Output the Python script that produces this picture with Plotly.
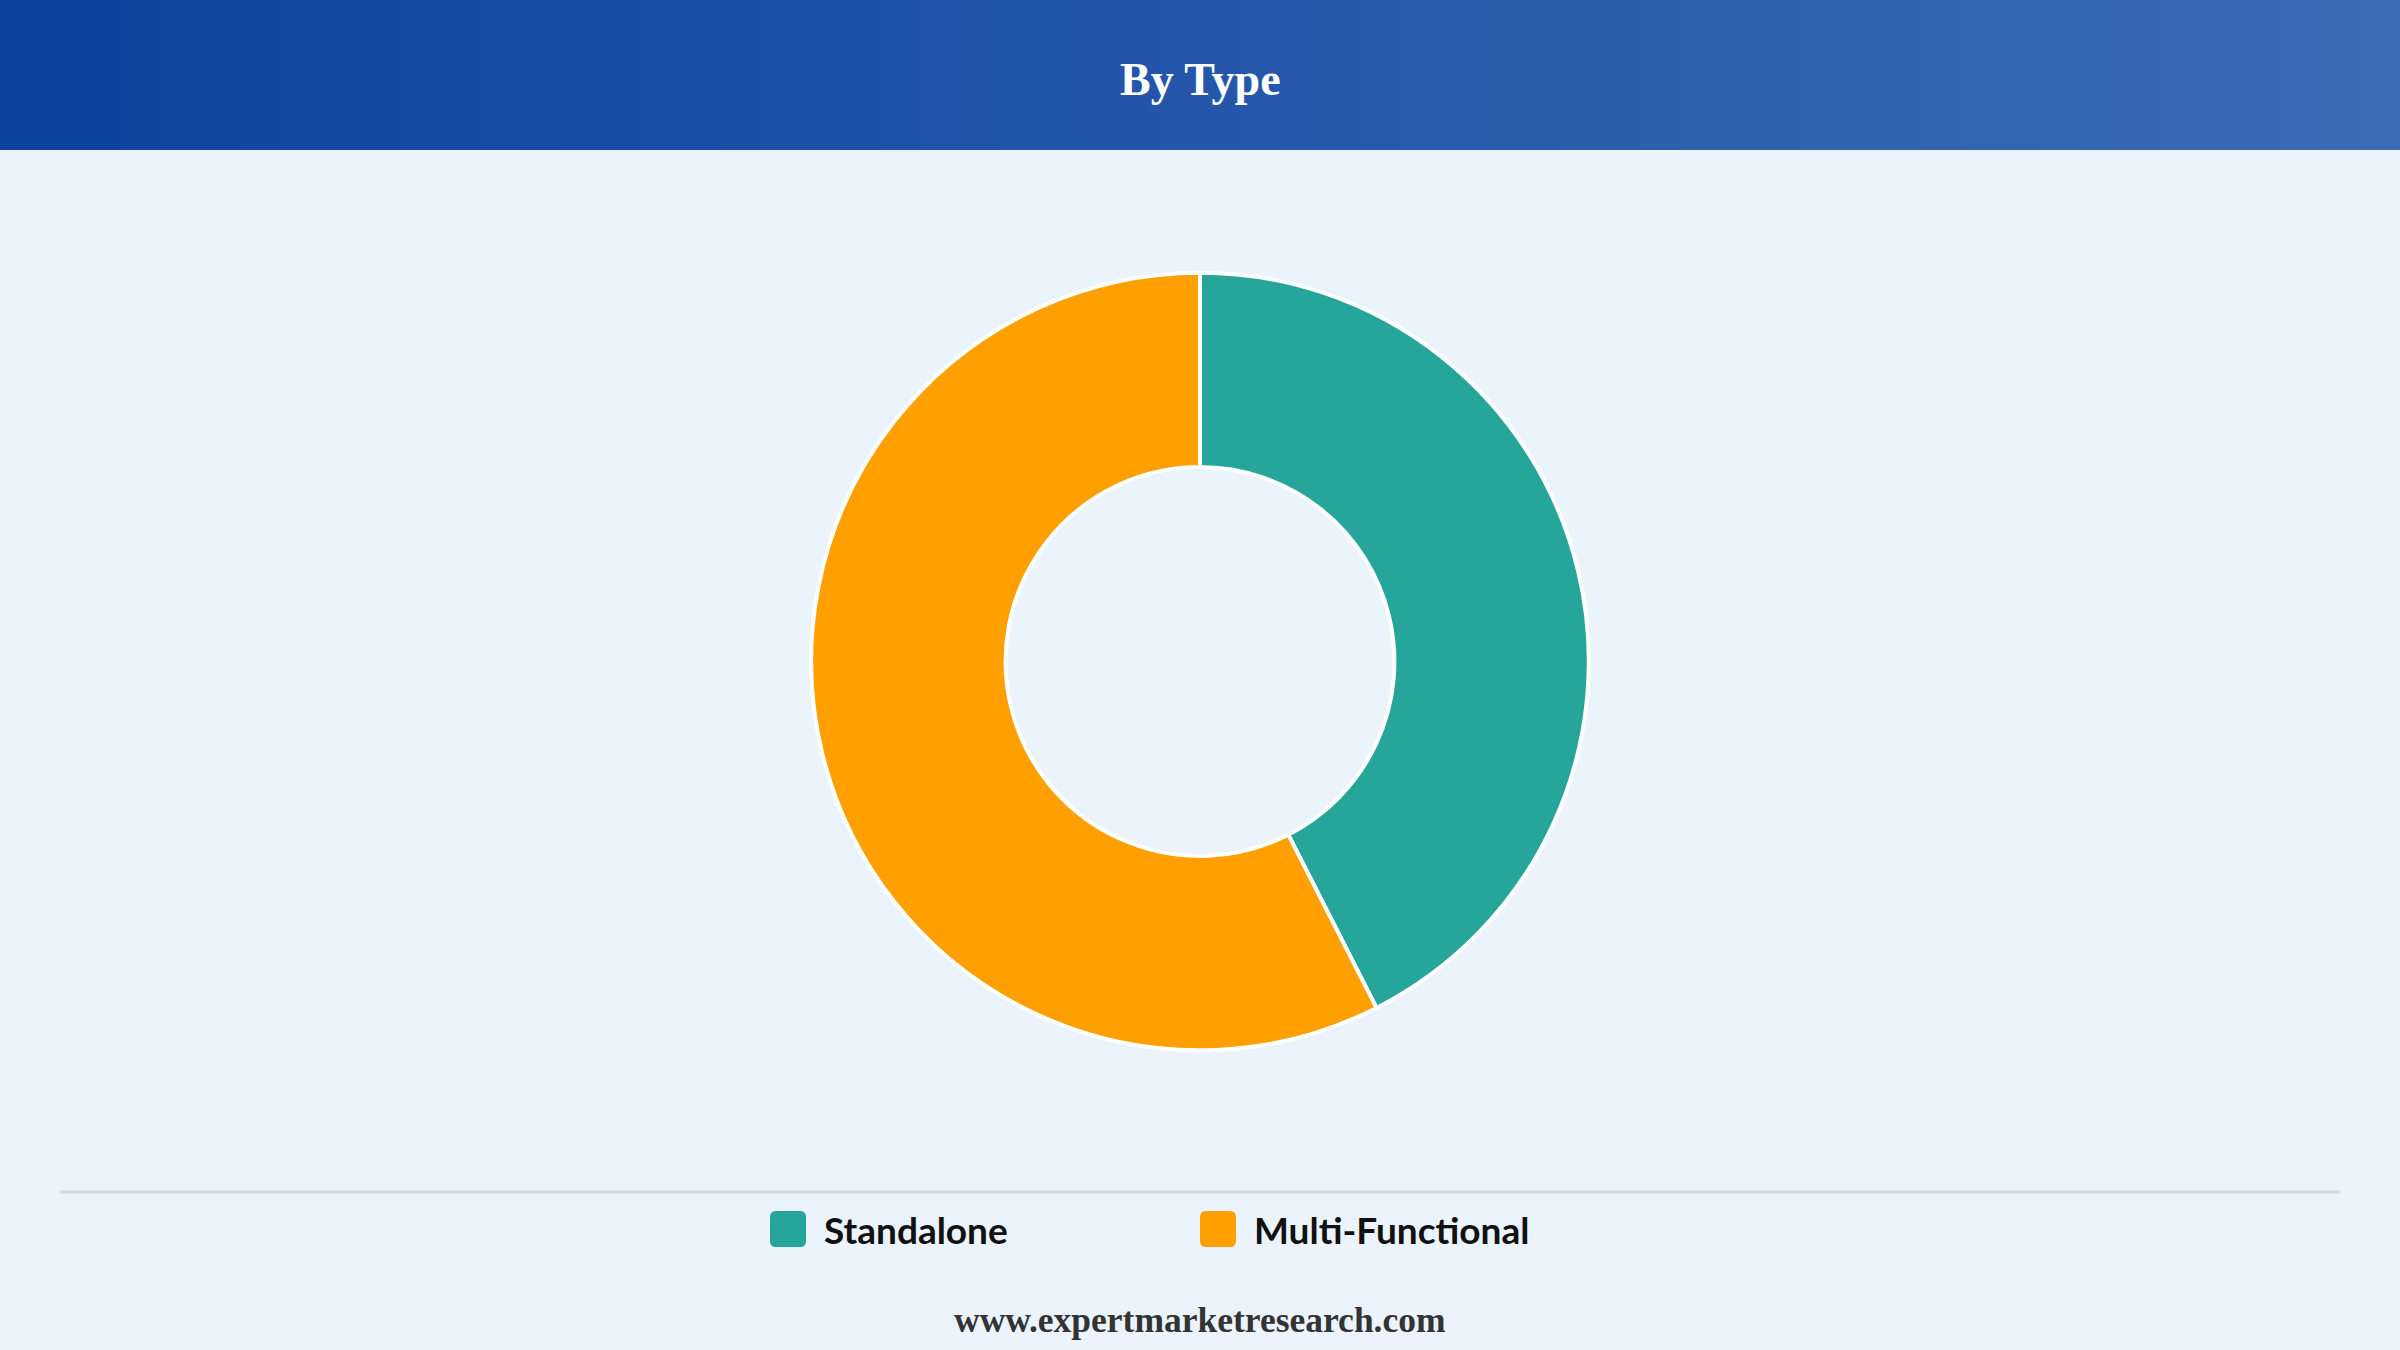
import plotly.graph_objects as go

# Data ---
labels = ['Standalone', 'Multi-Functional']
values = [42.5, 57.5]
colors = ['#26A69A', '#FFA000']

W, H = 2400, 1350
bg = '#EBF3FC'

fig = go.Figure(go.Pie(
    labels=labels, values=values, hole=0.5, sort=False, direction='clockwise',
    rotation=0, textinfo='none', hoverinfo='label+percent', showlegend=False,
    marker=dict(colors=colors, line=dict(color='white', width=4)),
    domain=dict(x=[0.3, 0.7], y=[0.222, 0.798]),
))

# Header gradient band
c0, c1 = (13, 67, 161), (60, 108, 180)
n = 60
shapes = []
for i in range(n):
    t = i / (n - 1)
    col = 'rgb(%d,%d,%d)' % tuple(int(a + (b - a) * t) for a, b in zip(c0, c1))
    shapes.append(dict(type='rect', xref='paper', yref='paper', x0=i / n, x1=(i + 1) / n + 0.002,
                       y0=1 - 150 / H, y1=1, fillcolor=col, line=dict(width=0), layer='below'))
# Separator line above legend
shapes.append(dict(type='line', xref='paper', yref='paper', x0=60 / W, x1=1 - 60 / W,
                   y0=1 - 1192 / H, y1=1 - 1192 / H, line=dict(color='#D8DCE0', width=3)))

annotations = [
    dict(text='<b>By Type</b>', x=0.5, y=1 - 80 / H, xref='paper', yref='paper',
         yanchor='middle', showarrow=False,
         font=dict(family='Liberation Serif', size=46, color='white')),
    dict(text='<b>www.expertmarketresearch.com</b>', x=0.5, y=1 - 1320 / H, xref='paper',
         yref='paper', yanchor='middle', showarrow=False,
         font=dict(family='Liberation Serif', size=35.5, color='#333333')),
]

# Custom legend (rounded square swatches + bold labels)
legend_x = [770, 1200]
ly = 1229
for lab, col, lx in zip(labels, colors, legend_x):
    x0, x1 = lx, lx + 36
    y0, y1 = ly - 18, ly + 18
    r = 6
    path = (f'M{x0 + r},{y0} L{x1 - r},{y0} Q{x1},{y0} {x1},{y0 + r} L{x1},{y1 - r} '
            f'Q{x1},{y1} {x1 - r},{y1} L{x0 + r},{y1} Q{x0},{y1} {x0},{y1 - r} '
            f'L{x0},{y0 + r} Q{x0},{y0} {x0 + r},{y0} Z')
    shapes.append(dict(type='path', xref='x', yref='y', path=path,
                       fillcolor=col, line=dict(width=0)))
    annotations.append(dict(text='<b>%s</b>' % lab, x=(lx + 52) / W, y=1 - ly / H,
                            xref='paper', yref='paper', xanchor='left', yanchor='middle',
                            showarrow=False, font=dict(family='Lato', size=37, color='#111111')))

fig.update_layout(
    width=W, height=H, paper_bgcolor=bg, plot_bgcolor='rgba(0,0,0,0)',
    margin=dict(l=0, r=0, t=0, b=0), shapes=shapes, annotations=annotations,
    xaxis=dict(range=[0, W], visible=False, fixedrange=True),
    yaxis=dict(range=[H, 0], visible=False, fixedrange=True),
)

fig.write_html('out.html', config=dict(displayModeBar=False),
               post_script="document.body.style.margin='0';document.body.style.background='#EBF3FC';")
